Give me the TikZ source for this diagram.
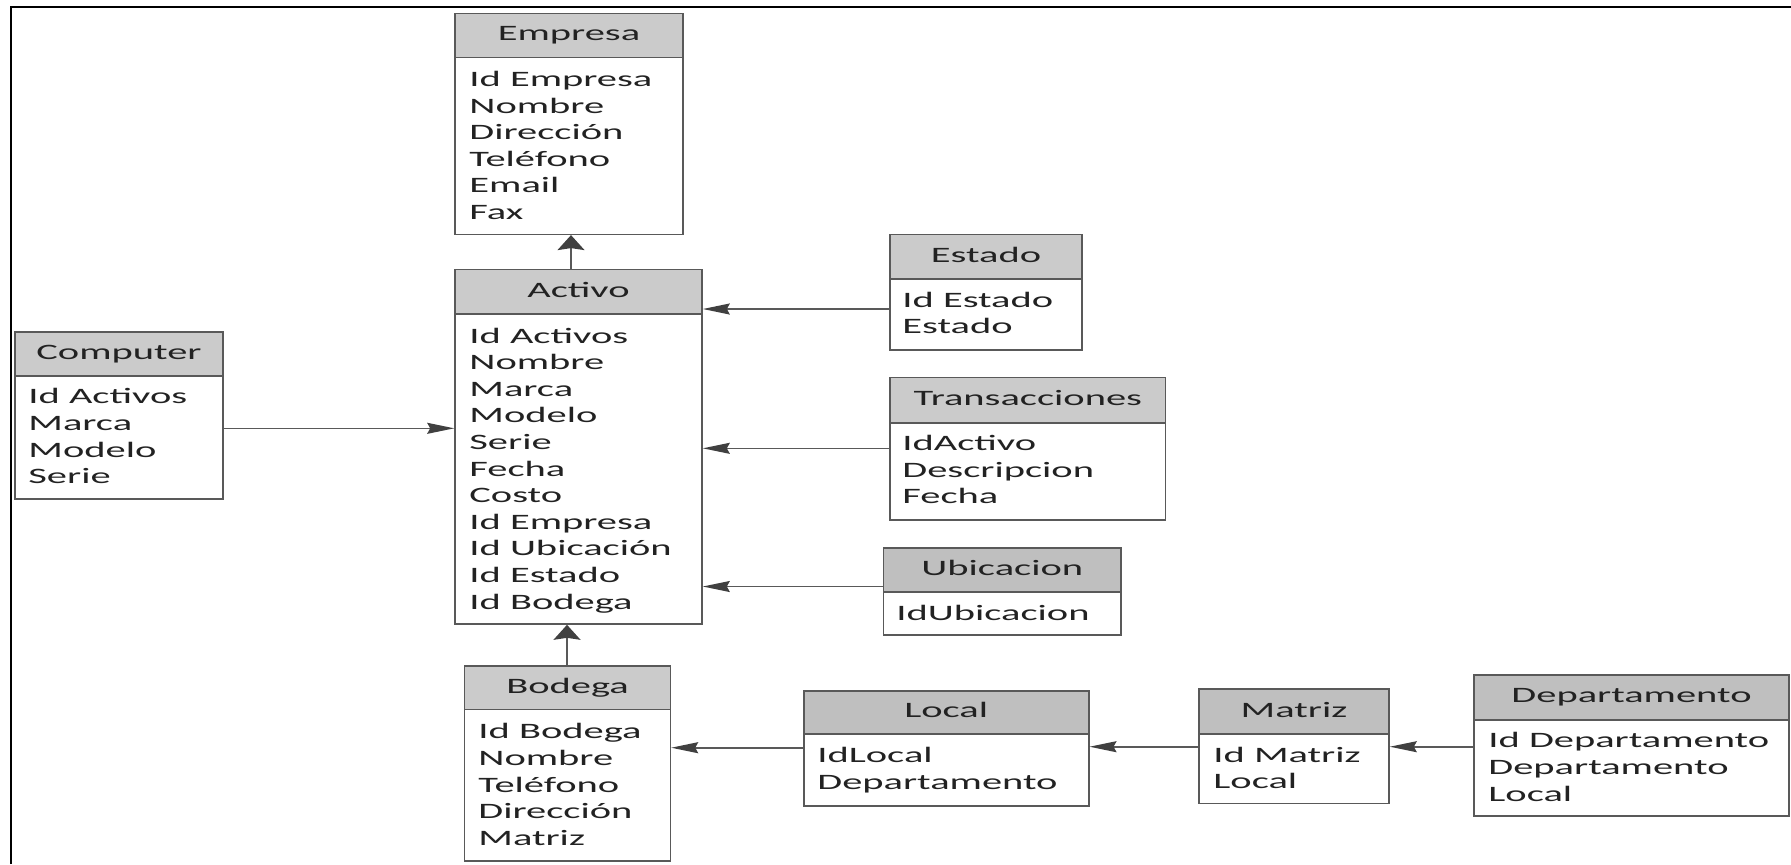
\documentclass[tikz,border=0pt]{standalone}
\usepackage{fontspec}
\setmainfont{Carlito}[FakeStretch=1.84]
\usetikzlibrary{arrows.meta,fit}
\definecolor{hdrA}{HTML}{CBCBCB}
\definecolor{hdrB}{HTML}{BFBFBF}
\definecolor{edge}{HTML}{595959}
\definecolor{arrowc}{HTML}{404040}
\definecolor{txt}{HTML}{222222}
\newcommand\ent[8]{%
  \node[hdrbox=#7, fit={(#2,#3) (#4,#5)}] (#1-h) {};
  \node[ttl] (#1-t) at (#1-h.center) {#8};
  \node[bodybox, fit={(#2,#5) (#4,#6)}] (#1-b) {};
}
\newcommand\entlines[4]{%
  \foreach \t [count=\i] in {#4} \node[bt] (#1-\i) at (#2,{#3+(\i-1)*26.6}) {\t};
}
\begin{document}
\begin{tikzpicture}[x=0.5pt,y=-0.5pt,
  box/.style={draw=edge, line width=0.8pt, inner sep=0pt},
  hdrbox/.style={box, fill=#1},
  bodybox/.style={box, fill=white},
  ttl/.style={anchor=center, inner sep=0pt, font=\fontsize{11}{13.3}\selectfont, text=txt, text height=7.7pt, text depth=2.2pt},
  bt/.style={anchor=west, inner sep=0pt, font=\fontsize{11}{13.3}\selectfont, text=txt, text height=7.1pt, text depth=0pt},
  conn/.style={draw=edge, line width=0.8pt},
  arrH/.style={conn, -{Stealth[length=13.5pt,width=5.5pt,inset=1.5pt,color=arrowc]}},
  arrV/.style={conn, -{Stealth[length=7.5pt,width=13.5pt,inset=1pt,color=arrowc]}}
]
\useasboundingbox (0,0) rectangle (1791,864);
\draw[black, line width=1.2pt] (10.7,864) -- (10.7,6.7) -- (1791,6.7);

\ent{empresa}{455}{13.3}{683}{57.3}{234.3}{hdrA}{Empresa}
\entlines{empresa}{469}{79.3}{Id Empresa,Nombre,Dirección,Teléfono,Email,Fax}

\ent{activo}{455}{269.3}{702}{314}{624}{hdrA}{Activo}
\entlines{activo}{469}{336}{Id Activos,Nombre,Marca,Modelo,Serie,Fecha,Costo,Id Empresa,Id Ubicación,Id Estado,Id Bodega}

\ent{computer}{15}{331.7}{223}{375.7}{499}{hdrA}{Computer}
\entlines{computer}{28}{396.7}{Id Activos,Marca,Modelo,Serie}

\ent{estado}{890}{234.3}{1082}{278.7}{349.7}{hdrA}{Estado}
\entlines{estado}{902}{300}{Id Estado,Estado}

\ent{trans}{890}{377.3}{1165.6}{422.7}{520}{hdrA}{Transacciones}
\entlines{trans}{902}{443.3}{IdActivo,Descripcion,Fecha}

\ent{ubic}{883.6}{547.7}{1121}{591.7}{635}{hdrB}{Ubicacion}
\entlines{ubic}{896}{613.3}{IdUbicacion}

\ent{bodega}{464.6}{666}{670.4}{709.3}{861}{hdrA}{Bodega}
\entlines{bodega}{478}{731.7}{Id Bodega,Nombre,Teléfono,Dirección,Matriz}

\ent{local}{803.8}{690.7}{1088.7}{734}{805.7}{hdrB}{Local}
\entlines{local}{817}{755.7}{IdLocal,Departamento}

\ent{matriz}{1199}{689}{1389}{734}{803.3}{hdrB}{Matriz}
\entlines{matriz}{1213}{755}{Id Matriz,Local}

\ent{depto}{1474}{674.7}{1789}{720}{815.7}{hdrB}{Departamento}
\entlines{depto}{1488}{740.7}{Id Departamento,Departamento,Local}

\coordinate (yComp) at (0,428.3);
\coordinate (yEst) at (0,309);
\coordinate (yTra) at (0,448.3);
\coordinate (yUbi) at (0,586.5);
\coordinate (yLoc) at (0,747.7);
\coordinate (yMat) at (0,746.7);
\coordinate (xE) at (571,0);
\coordinate (xB) at (567,0);

\draw[arrV] (activo-h.north -| xE) -- (empresa-b.south -| xE);
\draw[arrV] (bodega-h.north -| xB) -- (activo-b.south -| xB);
\draw[arrH] (computer-b.east |- yComp) -- (activo-b.west |- yComp);
\draw[arrH] (estado-b.west |- yEst) -- (activo-h.east |- yEst);
\draw[arrH] (trans-b.west |- yTra) -- (activo-b.east |- yTra);
\draw[arrH] (ubic-h.west |- yUbi) -- (activo-b.east |- yUbi);
\draw[arrH] (local-b.west |- yLoc) -- (bodega-b.east |- yLoc);
\draw[arrH] (matriz-b.west |- yMat) -- (local-b.east |- yMat);
\draw[arrH] (depto-b.west |- yMat) -- (matriz-b.east |- yMat);
\end{tikzpicture}
\end{document}
